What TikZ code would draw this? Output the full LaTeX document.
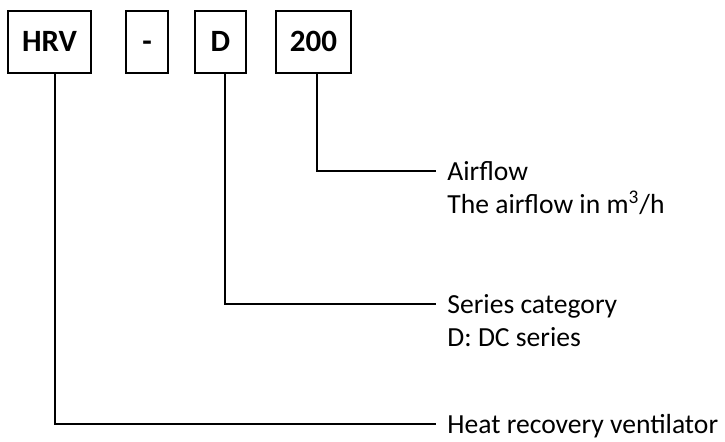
\documentclass[tikz,border=0pt]{standalone}
\usepackage{fontspec}
\setmainfont{Carlito}
\usetikzlibrary{positioning}
\newcommand{\labelsize}{\fontsize{13.8}{16}\selectfont}
\newcommand{\boxsize}{\fontsize{15.5}{18}\selectfont}
\tikzset{
	codebox/.style={draw, line width=1pt, minimum height=31pt, inner sep=0pt, text height=10pt, text depth=0pt, font=\boxsize\bfseries},
	lbl/.style={anchor=west, inner xsep=5.5pt, inner ysep=2pt, text height=11pt, text depth=1pt, font=\labelsize},
	lead/.style={line width=1pt}
}

\begin{document}
\begin{tikzpicture}[x=0.5pt, y=-0.5pt]
	\useasboundingbox (0,0) rectangle (725,442);
	% model code boxes
	\node[codebox, minimum width=41.5pt] (hrv) at (49.5,42) {HRV};
	\node[codebox, minimum width=21pt] (dash) at (147,42) {-};
	\node[codebox, minimum width=25.5pt] (dc) at (220.5,42) {D};
	\node[codebox, minimum width=37.5pt] (flow) at (313.5,42) {200};
	% explanations
	\node[lbl] (airflow) at (436,171) {Airflow};
	\node[lbl, anchor=north west] (airflowunit) at (airflow.south west) {The airflow in m\textsuperscript{3}/h};
	\node[lbl] (series) at (436,304) {Series category};
	\node[lbl, anchor=north west] (seriesdc) at (series.south west) {D: DC series};
	\node[lbl] (hrvname) at (436,424) {Heat recovery ventilator};
	% leaders
	\draw[lead] ([xshift=1.6pt]flow.south) |- (airflow.west);
	\draw[lead] ([xshift=2.1pt]dc.south) |- (series.west);
	\draw[lead] ([xshift=2.6pt]hrv.south) |- (hrvname.west);
\end{tikzpicture}
\end{document}
